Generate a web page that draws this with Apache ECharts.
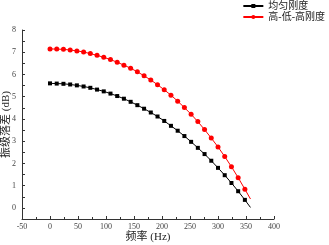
<!DOCTYPE html>
<html>
<head>
<meta charset="utf-8">
<script src="https://cdn.jsdelivr.net/npm/echarts@6/dist/echarts.min.js"></script>
<style>
	html, body { margin: 0; padding: 0; background: #fff; }
	#chart { width: 329px; height: 245px; }
</style>
</head>
<body>
<div id="chart"></div>
<script>
	// frequency (Hz) of each point, last one is the line end without marker
	var freq = [0, 12, 24, 36, 48, 60, 72, 84, 96, 108, 120, 132, 144, 156, 168, 180, 192, 204, 216, 228, 240, 252, 264, 276, 288, 300, 312, 324, 336, 348, 358];
	var uniform = [5.60, 5.59, 5.58, 5.55, 5.51, 5.46, 5.40, 5.32, 5.24, 5.14, 5.03, 4.91, 4.77, 4.62, 4.46, 4.29, 4.11, 3.91, 3.69, 3.47, 3.23, 2.97, 2.70, 2.42, 2.12, 1.80, 1.47, 1.12, 0.75, 0.36, 0.02];
	var hlh = [7.15, 7.14, 7.13, 7.10, 7.06, 7.01, 6.94, 6.86, 6.77, 6.67, 6.55, 6.42, 6.28, 6.12, 5.94, 5.75, 5.54, 5.31, 5.07, 4.80, 4.51, 4.21, 3.88, 3.52, 3.14, 2.74, 2.31, 1.85, 1.36, 0.84, 0.40];
	var names = ['均匀刚度', '高-低-高刚度'];

	var fontColor = '#444';
	var lineColor = '#333';
	var cjk = '"Liberation Serif", "Noto Sans CJK SC", serif';

	function toPairs(ys) {
		var out = [];
		ys.forEach(function (v, i) {
			var item = { value: [freq[i], v] };
			if (i === ys.length - 1) item.symbol = 'none';
			out.push(item);
		});
		return out;
	}

	var option = {
		animation: false,
		legend: {
			orient: 'vertical',
			right: 4,
			top: 0,
			padding: [1, 0],
			itemWidth: 20,
			itemHeight: 5,
			itemGap: 1,
			textStyle: { color: '#222', fontSize: 10, fontFamily: cjk },
			data: names
		},
		grid: {
			left: 22,
			right: 55,
			top: 30,
			bottom: 26,
			outerBoundsMode: 'none',
			containLabel: false
		},
		xAxis: {
			type: 'value',
			min: -50,
			max: 400,
			interval: 50,
			name: '频率 (Hz)',
			nameLocation: 'middle',
			nameGap: 13,
			nameMoveOverlap: false,
			nameTextStyle: { color: '#222', fontSize: 11, fontFamily: cjk, verticalAlign: 'top' },
			axisLine: { onZero: false, lineStyle: { color: lineColor, width: 1 } },
			axisTick: { inside: true, length: 3, lineStyle: { color: lineColor } },
			minorTick: { show: true, splitNumber: 2, length: 2, lineStyle: { color: lineColor } },
			axisLabel: { color: fontColor, fontSize: 8, fontFamily: cjk, margin: 4 },
			splitLine: { show: false }
		},
		yAxis: {
			type: 'value',
			min: -0.5,
			max: 8,
			interval: 0.5,
			name: '振级落差 (dB)',
			nameLocation: 'middle',
			nameGap: 10,
			nameMoveOverlap: false,
			nameTextStyle: { color: '#222', fontSize: 11, fontFamily: cjk },
			axisLine: { show: true, onZero: false, lineStyle: { color: lineColor, width: 1 } },
			axisTick: { inside: true, length: 3, lineStyle: { color: lineColor } },
			axisLabel: {
				color: fontColor,
				fontSize: 8,
				fontFamily: cjk,
				margin: 6,
				formatter: function (v) {
					return (v >= 0 && Math.abs(v - Math.round(v)) < 1e-6) ? String(Math.round(v)) : '';
				}
			},
			splitLine: { show: false }
		},
		series: [{
			name: names[0],
			type: 'line',
			symbol: 'rect',
			symbolSize: 4,
			data: toPairs(uniform),
			lineStyle: { color: '#000', width: 1 },
			itemStyle: { color: '#000' }
		}, {
			name: names[1],
			type: 'line',
			symbol: 'circle',
			symbolSize: 5,
			data: toPairs(hlh),
			lineStyle: { color: '#ff0000', width: 1 },
			itemStyle: { color: '#ff0000' }
		}]
	};

	var myChart = echarts.init(document.getElementById('chart'));
	myChart.setOption(option);
</script>
</body>
</html>
